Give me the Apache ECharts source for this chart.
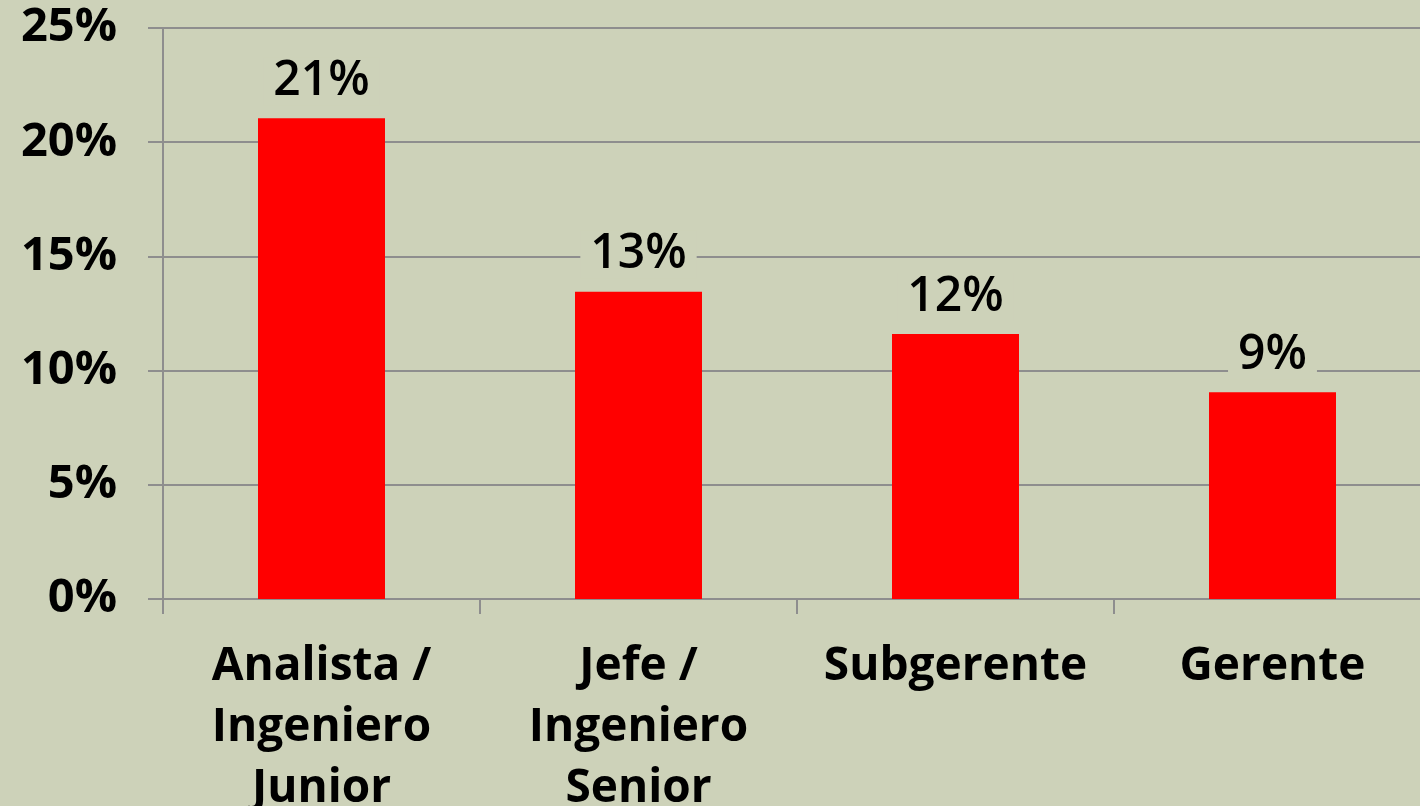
<!DOCTYPE html>
<html>
<head>
<meta charset="utf-8">
<style>
  html, body { margin: 0; padding: 0; background: #CDD2B9; }
  #chart { width: 1420px; height: 806px; }
</style>
<script src="https://cdn.jsdelivr.net/npm/echarts@6/dist/echarts.min.js"></script>
</head>
<body>
<div id="chart"></div>
<script>
var categories = ['Analista /\nIngeniero\nJunior', 'Jefe /\nIngeniero\nSenior', 'Subgerente', 'Gerente'];
var values = [21.05, 13.45, 11.6, 9.05];
var yTicks = [0, 5, 10, 15, 20, 25];

var chart = echarts.init(document.getElementById('chart'));
var bg = '#CDD2B9';
var font = '"Open Sans", Roboto, sans-serif';

chart.setOption({
    backgroundColor: bg,
    animation: false,
    grid: {
        left: 163,
        top: 28,
        width: 1268,
        height: 571,
        containLabel: false,
        outerBoundsMode: 'none'
    },
    xAxis: {
        type: 'category',
        data: categories,
        axisLine: { lineStyle: { color: '#8E8E8E', width: 2 } },
        axisTick: { show: true, length: 15, lineStyle: { color: '#8E8E8E', width: 2 } },
        axisLabel: {
            color: '#000',
            fontFamily: font,
            fontWeight: 'bold',
            fontSize: 46,
            lineHeight: 61,
            margin: 37,
            interval: 0
        }
    },
    yAxis: {
        type: 'value',
        min: yTicks[0],
        max: yTicks[yTicks.length - 1],
        interval: 5,
        axisLine: { show: true, lineStyle: { color: '#8E8E8E', width: 2 } },
        axisTick: { show: true, length: 15, lineStyle: { color: '#8E8E8E', width: 2 } },
        splitLine: { lineStyle: { color: '#8E8E8E', width: 2 } },
        axisLabel: {
            color: '#000',
            fontFamily: font,
            fontWeight: 'bold',
            fontSize: 47,
            margin: 46,
            formatter: function (v) { return v + '%'; }
        }
    },
    series: [{
        type: 'bar',
        data: values,
        barWidth: 127,
        itemStyle: { color: '#FF0000' },
        label: {
            show: true,
            position: 'top',
            distance: 13,
            color: '#000',
            fontFamily: font,
            fontWeight: 600,
            fontSize: 48,
            backgroundColor: bg,
            padding: [0, 10, 0, 10],
            formatter: function (p) { return Math.round(p.value) + '%'; }
        }
    }]
});
</script>
</body>
</html>
